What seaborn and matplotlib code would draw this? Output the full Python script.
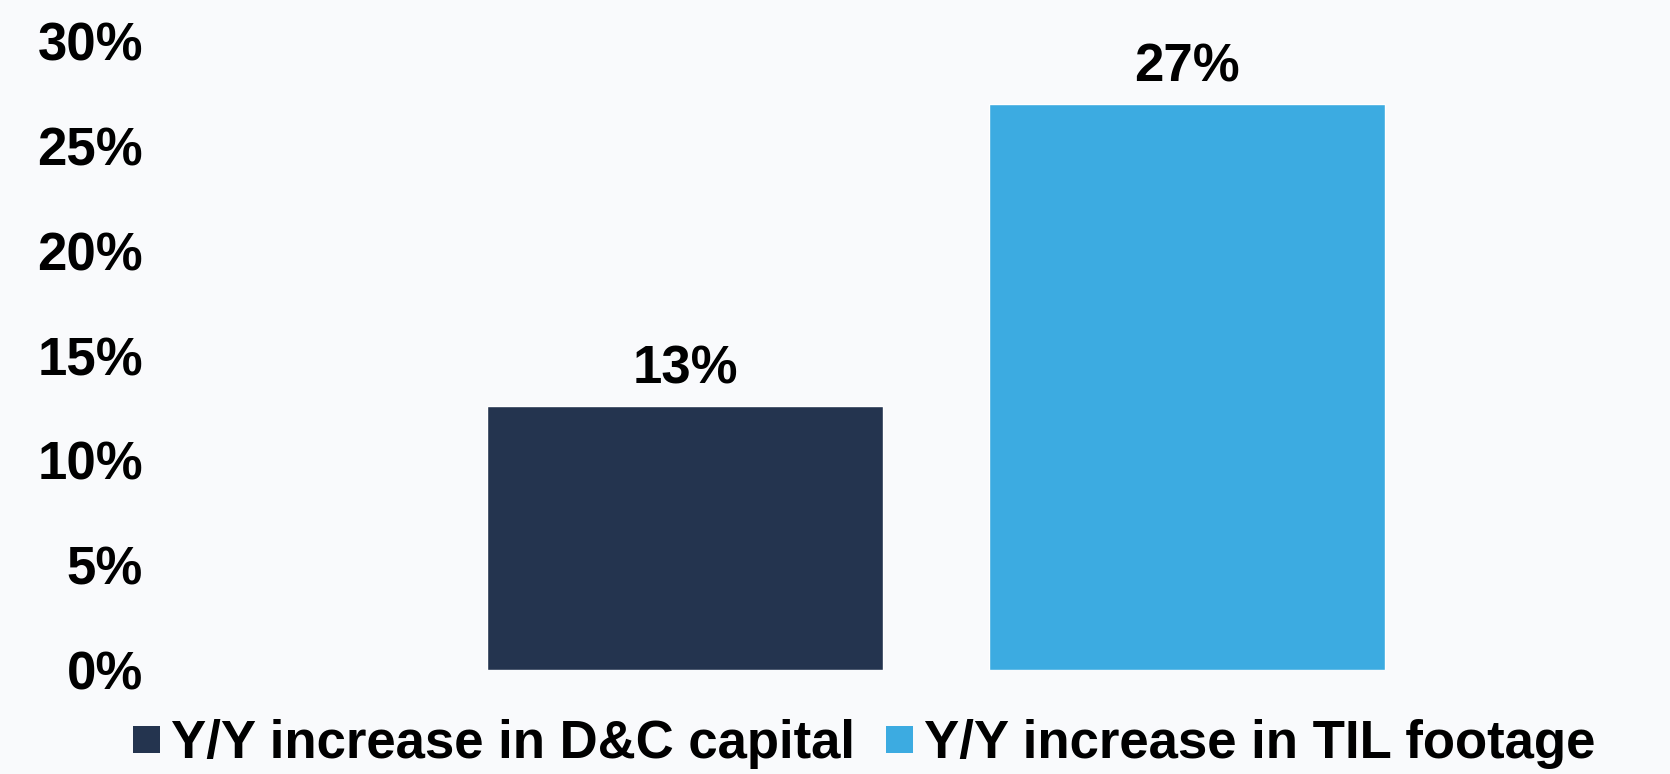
import matplotlib
matplotlib.use("Agg")
import matplotlib.pyplot as plt
import matplotlib.patches as mpatches
import pandas as pd
import seaborn as sns

series = ["Y/Y increase in D&C capital", "Y/Y increase in TIL footage"]
values = [12.6, 27.0]
colors = ["#24344F", "#3CABE1"]
yticks = [0, 5, 10, 15, 20, 25, 30]

bg = "#F9FAFC"
sns.set_style("white")
plt.rcParams["font.family"] = ["Liberation Sans", "DejaVu Sans"]
plt.rcParams["font.weight"] = "bold"
plt.rcParams["text.color"] = "black"
plt.rcParams["ytick.color"] = "black"

df = pd.DataFrame({"serie": series, "valor": values})

fig = plt.figure(figsize=(16.7, 7.74), dpi=100, facecolor=bg)
ax = fig.add_axes([150 / 1670, 104 / 774, 1520 / 1670, 629 / 774])
ax.set_facecolor(bg)

sns.barplot(data=df, x="serie", y="valor", hue="serie", palette=colors,
            width=0.789, saturation=1, legend=False, ax=ax)

ax.set_xlim((150 - 685) / 502, (1670 - 685) / 502)
ax.set_ylim(0, 30)
ax.set_yticks(yticks)
ax.set_yticklabels([f"{t}%" for t in yticks], fontsize=38, fontweight="bold", color="black")
ax.tick_params(axis="y", length=0, pad=5)
ax.set_xticks([])
ax.set_xlabel("")
ax.set_ylabel("")
for s in ax.spines.values():
    s.set_visible(False)

for cont in ax.containers:
    ax.bar_label(cont, fmt="{:.0f}%", padding=8, fontsize=38, fontweight="bold", color="black")

# leyenda abajo, un poco subida para que no se corten las letras
handles = [mpatches.Patch(facecolor=c, edgecolor="none") for c in colors]
leg = fig.legend(handles, series, loc="center left", bbox_to_anchor=(133 / 1670, 30 / 774),
                 ncol=2, frameon=False, prop={"weight": "bold", "size": 38},
                 handlelength=0.51, handleheight=0.41, handletextpad=0.21,
                 columnspacing=0.59, borderpad=0, borderaxespad=0)
for t in leg.get_texts():
    t.set_color("black")

fig.savefig("out.png", dpi=100, facecolor=bg)
